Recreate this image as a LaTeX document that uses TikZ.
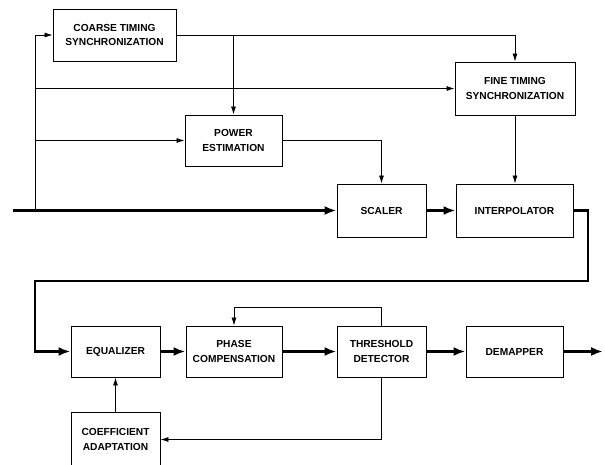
\documentclass[tikz,border=0pt]{standalone}
\usepackage{fontspec}
\setmainfont{Liberation Sans}
\usetikzlibrary{arrows.meta}
\begin{document}
\begin{tikzpicture}[x=1pt,y=-1pt,
  blk/.style={draw,line width=0.9pt,rectangle,inner sep=0pt,align=center,
    font=\fontsize{10.2}{14.8}\selectfont\bfseries},
  thin/.style={line width=0.8pt,-{Latex[length=8pt,width=5pt]}},
  thick/.style={line width=2.4pt,-{Latex[length=12pt,width=9pt]}}]
\useasboundingbox (0,0) rectangle (605,464);
\clip (0,0) rectangle (605,464);
\node[blk,minimum width=123pt,minimum height=52pt] (coarse) at (114.5,35) {COARSE TIMING\\SYNCHRONIZATION};
\node[blk,minimum width=97pt,minimum height=51pt] (power) at (233.5,140.5) {POWER\\ESTIMATION};
\node[blk,minimum width=120pt,minimum height=53pt] (fine) at (515,88.5) {FINE TIMING\\SYNCHRONIZATION};
\node[blk,minimum width=89pt,minimum height=53pt] (scaler) at (381.5,210.5) {SCALER};
\node[blk,minimum width=117pt,minimum height=53pt] (interp) at (514.5,210.5) {INTERPOLATOR};
\node[blk,minimum width=89pt,minimum height=51pt] (eq) at (115.5,351.5) {EQUALIZER};
\node[blk,minimum width=96pt,minimum height=51pt] (phase) at (234,351.5) {PHASE\\COMPENSATION};
\node[blk,minimum width=89pt,minimum height=51pt] (thr) at (381.5,351.5) {THRESHOLD\\DETECTOR};
\node[blk,minimum width=97pt,minimum height=51pt] (dem) at (514.5,351.5) {DEMAPPER};
\node[blk,minimum width=89pt,minimum height=54pt] (coef) at (115.5,439.5) {COEFFICIENT\\ADAPTATION};
\coordinate (in) at (13,210.5);
\coordinate (j) at (35,210.5);
\coordinate (out) at (603,351.5);
% input line
\draw[thick] (in) -- (scaler.west);
\draw[line width=0.8pt] (j) -- (35,35);
\draw[thin] (35,35) -- (coarse.west);
\draw[thin] (35,88.5) -- (fine.west);
\draw[thin] (35,140.5) -- (power.west);
\draw[thin] (coarse.east) -| (fine.north);
\draw[thin] (233.5,35) -- (power.north);
\draw[thin] (power.east) -| (scaler.north);
\draw[thin] (fine.south) -- (fine.south |- interp.north);
\draw[thick] (scaler.east) -- (interp.west);
\draw[thick] (interp.east) -- (588,210.5) -- (588,281) -- (35,281) -- (35,351.5) -- (eq.west);
\draw[thick] (eq.east) -- (phase.west);
\draw[thick] (phase.east) -- (thr.west);
\draw[thick] (thr.east) -- (dem.west);
\draw[thick] (dem.east) -- (out);
\draw[thin] (coef.north) -- (eq.south);
\draw[thin] (thr.south) |- (coef.east);
\draw[thin] (thr.north) -- ++(0,-18) -| (phase.north);
\end{tikzpicture}
\end{document}
